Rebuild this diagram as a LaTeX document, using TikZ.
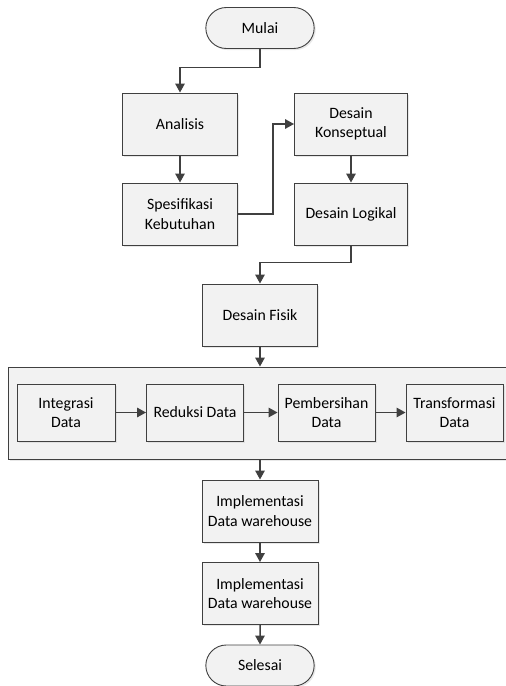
\documentclass[tikz,border=0pt]{standalone}
\usepackage{fontspec}
\setmainfont{Carlito}
\usepackage{xcolor}
\usetikzlibrary{arrows.meta,shapes.misc,shadows}
\definecolor{garis}{HTML}{404040}
\definecolor{isi}{HTML}{F2F2F2}
\tikzstyle{proses} = [draw=garis, fill=isi, rectangle, line width=0.9pt,
    minimum width=115pt, minimum height=62pt, align=center,
    font=\fontsize{15.8}{19.5}\selectfont,
    drop shadow={shadow xshift=1.6pt, shadow yshift=-1.6pt, fill=black!18}]
\tikzstyle{subproses} = [proses, minimum width=97pt, minimum height=57pt]
\tikzstyle{terminal} = [proses, rounded rectangle, minimum height=41pt]
\tikzstyle{panah} = [draw=garis, line width=1.5pt, -{Triangle[length=9pt,width=9.5pt]}]

\begin{document}
\begin{tikzpicture}[x=1pt, y=-1pt]
\useasboundingbox (0,0) rectangle (506,686);
\node [terminal] (mulai) at (260,28) {Mulai};
\node [proses] (analisis) at (180,124) {Analisis};
\node [proses] (spesifikasi) at (180,214) {Spesifikasi\\Kebutuhan};
\node [proses, minimum width=113pt] (konseptual) at (351,124) {Desain\\Konseptual};
\node [proses, minimum width=113pt] (logikal) at (351,214) {Desain Logikal};
\node [proses] (fisik) at (260,315) {Desain Fisik};
\node [proses, minimum width=502pt, minimum height=92pt,
       drop shadow={shadow xshift=0pt, shadow yshift=0pt, opacity=0}] (tahap) at (259,413) {};
\node [subproses, minimum width=98pt] (integrasi) at (66,412.5) {Integrasi\\Data};
\node [subproses] (reduksi) at (195,412.5) {Reduksi Data};
\node [subproses] (pembersihan) at (326.5,412.5) {Pembersihan\\Data};
\node [subproses] (transformasi) at (454.5,412.5) {Transformasi\\Data};
\node [proses, minimum width=116pt] (implementasi1) at (260,511) {Implementasi\\Data warehouse};
\node [proses, minimum width=116pt] (implementasi2) at (260,593.5) {Implementasi\\Data warehouse};
\node [terminal] (selesai) at (260,665.5) {Selesai};

\draw [panah] (mulai.south) -- ++(0,18.5) -| (analisis.north);
\draw [panah] (analisis) -- (spesifikasi);
\draw [panah] (spesifikasi.east) -- ++(35,0) |- (konseptual.west);
\draw [panah] (konseptual) -- (logikal);
\draw [panah] (logikal.south) -- ++(0,17) -| (fisik.north);
\draw [panah] (fisik.south) -- (fisik.south |- tahap.north);
\draw [panah] (integrasi) -- (reduksi);
\draw [panah] (reduksi) -- (pembersihan);
\draw [panah] (pembersihan) -- (transformasi);
\draw [panah] (implementasi1.north |- tahap.south) -- (implementasi1.north);
\draw [panah] (implementasi1) -- (implementasi2);
\draw [panah] (implementasi2) -- (selesai);
\end{tikzpicture}
\end{document}
